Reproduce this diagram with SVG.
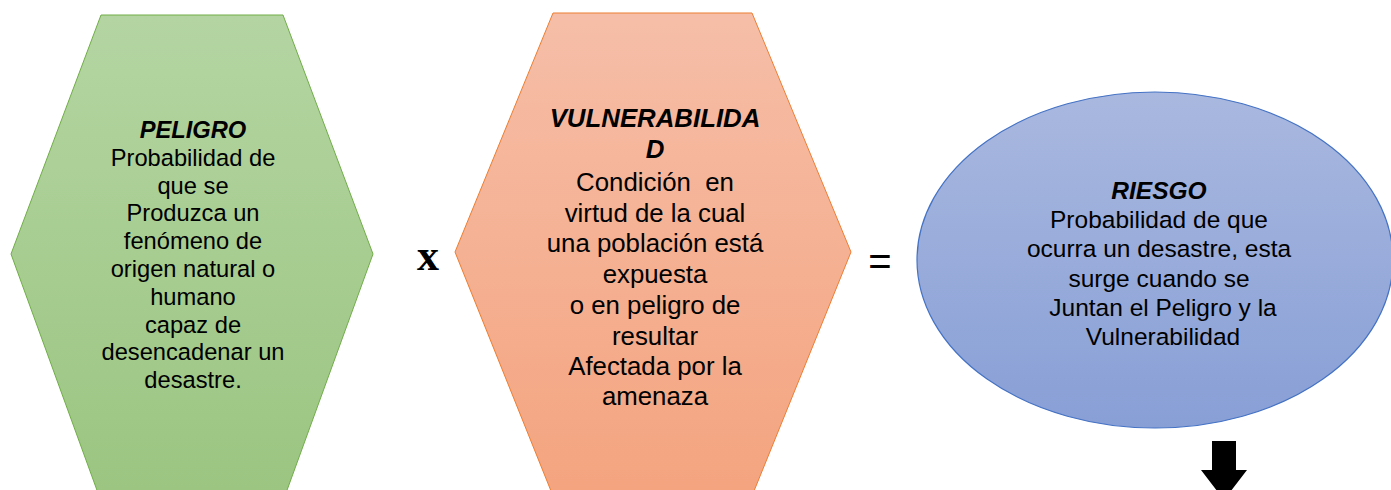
<svg xmlns="http://www.w3.org/2000/svg" width="1391" height="490" viewBox="0 0 1391 490">
<defs>
<linearGradient id="gGreen" x1="0" y1="0" x2="0" y2="1"><stop offset="0" stop-color="#b4d5a2"/><stop offset="1" stop-color="#9bc581"/></linearGradient>
<linearGradient id="gOrange" x1="0" y1="0" x2="0" y2="1"><stop offset="0" stop-color="#f6bea8"/><stop offset="1" stop-color="#f4a47f"/></linearGradient>
<linearGradient id="gBlue" x1="0" y1="0" x2="0" y2="1"><stop offset="0" stop-color="#a9b8df"/><stop offset="1" stop-color="#889fd6"/></linearGradient>
<style>
.t{font-family:"Liberation Sans",Arial,sans-serif;fill:#000;text-anchor:middle}
.h{font-weight:bold;font-style:italic}
</style>
</defs>
<rect width="1391" height="490" fill="#fff"/>
<g id="peligro">
<polygon points="101,15 283,15 373,254 286,493 98,493 11,254" fill="url(#gGreen)" stroke="#70ad47" stroke-width="1"/>
<text class="t" font-size="23.7" x="193" y="138"><tspan class="h">PELIGRO</tspan><tspan x="193" dy="27.8">Probabilidad de</tspan><tspan x="193" dy="27.8">que se</tspan><tspan x="193" dy="27.8">Produzca un</tspan><tspan x="193" dy="27.8">fenómeno de</tspan><tspan x="193" dy="27.8">origen natural o</tspan><tspan x="193" dy="27.8">humano</tspan><tspan x="193" dy="27.8">capaz de</tspan><tspan x="193" dy="27.8">desencadenar un</tspan><tspan x="193" dy="27.8">desastre.</tspan></text>
</g>
<g id="vulnerabilidad">
<polygon points="553,13 752,13 851,252 754,491 551,491 455,252" fill="url(#gOrange)" stroke="#ed7d31" stroke-width="1"/>
<text class="t" font-size="25.8" x="655" y="127" xml:space="preserve"><tspan class="h">VULNERABILIDA</tspan><tspan x="655" dy="30.5" class="h">D</tspan><tspan x="655" dy="33.5">Condición  en</tspan><tspan x="655" dy="30.5">virtud de la cual</tspan><tspan x="655" dy="30">una población está</tspan><tspan x="655" dy="31">expuesta</tspan><tspan x="655" dy="31">o en peligro de</tspan><tspan x="655" dy="31">resultar</tspan><tspan x="655" dy="30">Afectada por la</tspan><tspan x="655" dy="30">amenaza</tspan></text>
</g>
<g id="riesgo">
<ellipse cx="1155" cy="260" rx="238" ry="168" fill="url(#gBlue)" stroke="#4472c4" stroke-width="1.2"/>
<text class="t" font-size="24.5" x="1159" y="199"><tspan class="h">RIESGO</tspan><tspan x="1159" dy="29.2">Probabilidad de que</tspan><tspan x="1159" dy="29.2">ocurra un desastre, esta</tspan><tspan x="1159" dy="29.2">surge cuando se</tspan><tspan x="1163" dy="29.2">Juntan el Peligro y la</tspan><tspan x="1163" dy="29.2">Vulnerabilidad</tspan></text>
</g>
<g id="connectors">
<text x="428" y="270" font-family="'Liberation Serif','Times New Roman',serif" font-weight="bold" font-size="44" text-anchor="middle">x</text>
<text x="880" y="275" font-family="'Liberation Sans',Arial,sans-serif" font-size="40" text-anchor="middle">=</text>
<polygon points="1212,441 1236,441 1236,470 1247,470 1224,500 1201,470 1212,470" fill="#000"/>
</g>
</svg>
